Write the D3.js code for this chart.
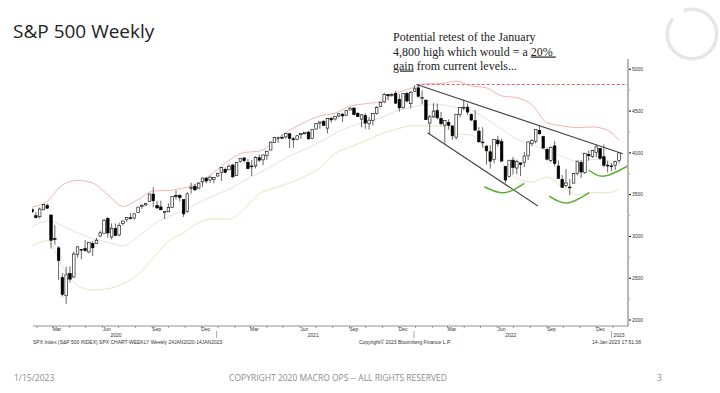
<!DOCTYPE html>
<html>
<head>
<meta charset="utf-8">
<script src="https://cdn.jsdelivr.net/npm/d3@7"></script>
<style>
  body { margin: 0; background: #fff; }
  svg { display: block; }
</style>
</head>
<body>
<svg id="slide" width="720" height="393"></svg>
<script>
const PLOT = { left: 33, right: 628, top: 59, bottom: 326 }
const CANDLE_W = 2.6

// weekly SPX candles, 24 Jan 2020 .. 13 Jan 2023 (one value per week)
const opens = [
  3321,3248,3235,3318,3369,3257,2974,2863,2508,2290,2558,2514,2782,2846,2854,2815,2915,2914,3004,3038,
  3213,2993,3094,3018,3155,3201,3224,3219,3288,3356,3377,3419,3507,3370,3353,3285,3295,3349,3489,3493,
  3441,3296,3583,3600,3579,3653,3698,3675,3684,3723,
  3764,3803,3797,3855,3731,3899,3939,3886,3843,3844,3942,3916,3969,4034,4124,4174,4185,4191,4229,4169,
  4159,4217,4229,4248,4174,4285,4356,4373,4296,4410,4406,4442,4462,4450,4513,4535,4474,4403,4450,4348,
  4385,4469,4553,4610,4697,4689,4712,4640,4539,4710,4588,4733,
  4778,4655,4632,4357,4431,4505,4412,4332,4363,4323,4188,4462,4541,4547,4462,4385,4260,4130,4082,4013,
  3920,4153,4134,3838,3715,3913,3819,3880,3884,3965,4112,4140,4269,4195,4041,3910,4084,3843,3682,3610,
  3591,3638,3755,3886,3765,3982,3956,4005,4053,3954,3853,3844,
  3853,3910
]
const highs = [
  3337,3293,3347,3385,3393,3259,3136,2883,2562,2637,2641,2819,2880,2846,2955,2932,2945,2980,3068,3211,
  3233,3156,3155,3165,3186,3233,3280,3272,3352,3387,3399,3509,3588,3425,3428,3306,3397,3482,3549,3502,
  3441,3529,3645,3628,3644,3700,3712,3726,3711,3760,
  3827,3824,3861,3870,3889,3937,3951,3929,3914,3960,3983,3978,4020,4130,4191,4194,4218,4238,4238,4190,
  4214,4234,4249,4262,4287,4355,4372,4393,4415,4430,4440,4468,4480,4513,4545,4549,4486,4466,4475,4429,
  4475,4559,4608,4718,4707,4717,4743,4705,4713,4731,4740,4808,
  4819,4749,4632,4454,4595,4590,4489,4385,4402,4324,4465,4546,4637,4593,4471,4513,4308,4307,4082,4090,
  4158,4204,4169,3838,3913,3951,3919,3880,4013,4140,4167,4280,4325,4204,4062,4076,4140,3908,3737,3807,
  3686,3762,3905,3912,4001,4028,4034,4101,4055,4101,3907,3878,
  3906,4003
]
const lows = [
  3280,3214,3214,3315,3328,2855,2901,2478,2281,2192,2447,2506,2749,2727,2816,2797,2766,2910,3000,3038,
  2984,2966,3004,3000,3129,3173,3202,3200,3284,3330,3363,3413,3349,3330,3313,3209,3293,3344,3441,3419,
  3233,3280,3512,3543,3569,3593,3633,3643,3636,3715,
  3663,3757,3797,3694,3726,3884,3884,3805,3723,3814,3894,3853,3917,4034,4121,4119,4165,4168,4057,4061,
  4152,4167,4219,4165,4173,4282,4289,4327,4233,4360,4386,4423,4367,4450,4513,4457,4433,4306,4288,4278,
  4329,4459,4547,4595,4630,4672,4585,4495,4531,4600,4531,4733,
  4663,4582,4395,4222,4414,4401,4327,4115,4279,4157,4161,4424,4507,4450,4381,4267,4124,4062,3859,3811,
  3876,4074,3900,3637,3705,3741,3743,3722,3830,3913,4079,4112,4218,4057,3907,3887,3838,3694,3585,3584,
  3492,3638,3732,3698,3747,3906,3940,3947,3918,3827,3765,3782,
  3795,3877
]
const closes = [
  3295,3226,3328,3380,3338,2954,2972,2711,2305,2541,2489,2790,2875,2837,2831,2930,2864,2955,3044,3194,
  3041,3098,3009,3130,3185,3225,3216,3271,3351,3373,3397,3508,3427,3341,3319,3298,3348,3477,3484,3465,
  3270,3510,3585,3558,3638,3699,3663,3709,3703,3756,
  3825,3768,3841,3714,3887,3934,3907,3811,3842,3943,3913,3975,4020,4129,4185,4180,4181,4233,4174,4156,
  4204,4230,4247,4166,4281,4352,4370,4327,4412,4395,4437,4468,4442,4509,4535,4459,4433,4455,4357,4391,
  4471,4545,4605,4697,4683,4698,4595,4538,4712,4621,4726,4766,
  4677,4663,4398,4432,4500,4419,4349,4385,4329,4204,4463,4543,4546,4488,4393,4272,4132,4123,4024,3901,
  4158,4109,3901,3675,3912,3825,3899,3863,3962,4130,4145,4280,4228,4057,3924,4067,3873,3693,3586,3640,
  3583,3753,3901,3771,3993,3965,4026,4072,3934,3852,3845,3840,
  3895,3999
]

// 20-week bands, read every four weeks
const bandDates = [
  "2020-01-24","2020-02-21","2020-03-20","2020-04-17","2020-05-15","2020-06-12","2020-07-10","2020-08-07",
  "2020-09-04","2020-10-02","2020-10-30","2020-11-27","2020-12-25","2021-01-22","2021-02-19","2021-03-19",
  "2021-04-16","2021-05-14","2021-06-11","2021-07-09","2021-08-06","2021-09-03","2021-10-01","2021-10-29",
  "2021-11-26","2021-12-24","2022-01-21","2022-02-18","2022-03-18","2022-04-15","2022-05-13","2022-06-10",
  "2022-07-08","2022-08-05","2022-09-02","2022-09-30","2022-10-28","2022-11-25","2022-12-23","2023-01-13"
]
const bandUpper = [3350,3420,3616,3670,3640,3500,3360,3440,3544,3550,3580,3641,3767,3910,4005,4020,4141,4270,4367,4442,
  4475,4559,4588,4614,4712,4770,4826,4830,4858,4802,4778,4682,4660,4575,4360,4323,4302,4310,4270,4152]
const bandMid = [3116,3184,3129,3040,2975,2930,2888,2994,3144,3237,3310,3403,3489,3563,3670,3760,3861,3961,4043,4130,
  4233,4315,4362,4420,4496,4547,4574,4574,4543,4508,4405,4284,4164,4100,4026,3959,3900,3922,3902,3861]
const bandLower = [2882,2948,2642,2414,2358,2374,2434,2546,2744,2939,3044,3165,3211,3205,3332,3509,3581,3639,3719,3818,
  3993,4071,4140,4227,4280,4324,4323,4321,4227,4214,4032,3880,3690,3650,3710,3595,3498,3524,3523,3570]

const yTicks = [2000, 2500, 3000, 3500, 4000, 4500, 5000]
const yearLabels = ["2020", "2021", "2022"]

// annotations (date, level)
const athLevel = 4818
const athDate = "2022-01-04"
const upperTrend = [["2022-01-04", 4818], ["2023-01-20", 3990]]
const lowerTrend = [["2022-01-24", 4240], ["2022-08-16", 3364]]
const supportArcs = [
  [["2022-05-09", 3595], ["2022-06-15", 3522], ["2022-07-22", 3636]],
  [["2022-09-06", 3483], ["2022-10-10", 3400], ["2022-11-19", 3523]],
  [["2022-11-18", 3795], ["2022-12-17", 3722], ["2023-01-29", 3843]]
]

const parse = d3.timeParse("%Y-%m-%d")
const weeks = d3.timeFriday.range(new Date(2020, 0, 24), new Date(2023, 0, 14))
const candles = weeks.map((d, i) => ({ date: d, o: opens[i], h: highs[i], l: lows[i], c: closes[i] }))

const svg = d3.select("#slide")
svg.append("rect").attr("width", 720).attr("height", 393).attr("fill", "#fff")

const x = d3.scaleTime()
  .domain([weeks[0], weeks[weeks.length - 1]])
  .range([32.1, 619])
const y = d3.scaleLinear()
  .domain([2000, 5000])
  .range([320, 69.3])

svg.append("clipPath").attr("id", "plotclip")
  .append("rect")
  .attr("x", 32).attr("y", PLOT.top)
  .attr("width", PLOT.right - 32).attr("height", PLOT.bottom - PLOT.top)

const plot = svg.append("g").attr("clip-path", "url(#plotclip)")

// bands
const bandLine = vals => d3.line()
  .x((d, i) => x(parse(d)))
  .y((d, i) => y(vals[i]))
  .curve(d3.curveMonotoneX)(bandDates)

plot.append("path").attr("d", bandLine(bandMid))
  .attr("fill", "none").attr("stroke", "#e2e2e2").attr("stroke-width", 1)
plot.append("path").attr("d", bandLine(bandUpper))
  .attr("fill", "none").attr("stroke", "#f3b3b3").attr("stroke-width", 1)
plot.append("path").attr("d", bandLine(bandLower))
  .attr("fill", "none").attr("stroke", "#dcebbd").attr("stroke-width", 1)

// ATH dashed line
plot.append("line")
  .attr("x1", x(parse(athDate))).attr("x2", PLOT.right)
  .attr("y1", y(athLevel)).attr("y2", y(athLevel))
  .attr("stroke", "#e8656a").attr("stroke-width", 1.2)
  .attr("stroke-dasharray", "3,2")

// candles
const cg = plot.append("g")
cg.selectAll("line.wick").data(candles).join("line")
  .attr("class", "wick")
  .attr("x1", d => x(d.date)).attr("x2", d => x(d.date))
  .attr("y1", d => y(d.h)).attr("y2", d => y(d.l))
  .attr("stroke", "#000").attr("stroke-width", 0.6)
cg.selectAll("rect.body").data(candles).join("rect")
  .attr("class", "body")
  .attr("x", d => x(d.date) - CANDLE_W / 2)
  .attr("width", CANDLE_W)
  .attr("y", d => y(Math.max(d.o, d.c)))
  .attr("height", d => Math.max(0.8, Math.abs(y(d.o) - y(d.c))))
  .attr("fill", d => d.c >= d.o ? "#fff" : "#000")
  .attr("stroke", "#000").attr("stroke-width", 0.6)

// trend lines
const dl = d3.line().x(d => x(parse(d[0]))).y(d => y(d[1]))
svg.append("path").attr("d", dl(upperTrend))
  .attr("fill", "none").attr("stroke", "#444").attr("stroke-width", 1.1)
svg.append("path").attr("d", dl(lowerTrend))
  .attr("fill", "none").attr("stroke", "#444").attr("stroke-width", 1.1)

const arcLine = d3.line().x(d => x(parse(d[0]))).y(d => y(d[1])).curve(d3.curveNatural)
svg.selectAll("path.arc").data(supportArcs).join("path")
  .attr("class", "arc")
  .attr("d", arcLine)
  .attr("fill", "none").attr("stroke", "#5fae3a").attr("stroke-width", 1.5)

// y axis (right)
svg.append("line")
  .attr("x1", PLOT.right).attr("x2", PLOT.right)
  .attr("y1", PLOT.top).attr("y2", PLOT.bottom)
  .attr("stroke", "#a6a6a6").attr("stroke-width", 1.6)
const minor = d3.range(2250, 5000, 500)
svg.selectAll("line.ymin").data(minor).join("line")
  .attr("class", "ymin")
  .attr("x1", PLOT.right + 1).attr("x2", PLOT.right + 2)
  .attr("y1", d => y(d)).attr("y2", d => y(d))
  .attr("stroke", "#666").attr("stroke-width", 0.6)
svg.selectAll("line.ymaj").data(yTicks).join("line")
  .attr("class", "ymaj")
  .attr("x1", PLOT.right + 1).attr("x2", PLOT.right + 3)
  .attr("y1", d => y(d)).attr("y2", d => y(d))
  .attr("stroke", "#000").attr("stroke-width", 1)
svg.selectAll("text.ylab").data(yTicks).join("text")
  .attr("class", "ylab")
  .attr("x", PLOT.right + 4).attr("y", d => y(d)).attr("dy", "0.35em")
  .attr("font-family", "Liberation Sans, Arial, sans-serif").attr("font-size", 5)
  .attr("fill", "#333")
  .text(d => d)

// x axis (bottom)
const xAxis = d3.axisBottom(x)
  .ticks(d3.timeMonth.every(1))
  .tickSize(2)
  .tickFormat("")
const xg = svg.append("g")
  .attr("transform", `translate(0,${PLOT.bottom})`)
  .call(xAxis)
xg.select(".domain").remove()
xg.selectAll(".tick line").attr("stroke", "#555").attr("stroke-width", 0.6)
svg.append("line")
  .attr("x1", PLOT.left).attr("x2", PLOT.right)
  .attr("y1", PLOT.bottom).attr("y2", PLOT.bottom)
  .attr("stroke", "#777").attr("stroke-width", 0.8)

const smallFont = "Liberation Sans, Arial, sans-serif"
const quarterMonths = d3.timeMonth.range(new Date(2020, 0, 1), new Date(2023, 0, 1))
  .filter(m => m.getMonth() % 3 === 2)
svg.selectAll("text.mon").data(quarterMonths).join("text")
  .attr("class", "mon")
  .attr("x", d => x(d3.timeDay.offset(d, 9)))
  .attr("y", 331)
  .attr("text-anchor", "middle")
  .attr("font-family", smallFont).attr("font-size", 5).attr("fill", "#333")
  .text(d3.timeFormat("%b"))

svg.selectAll("text.yr").data(yearLabels).join("text")
  .attr("class", "yr")
  .attr("x", d => x(new Date(+d, 5, 27)))
  .attr("y", 337)
  .attr("text-anchor", "middle")
  .attr("font-family", smallFont).attr("font-size", 5).attr("fill", "#333")
  .text(d => d)

const yearStarts = [2021, 2022, 2023].map(yr => d3.timeDay.offset(new Date(yr, 0, 1), -2))
svg.selectAll("line.ysep").data(yearStarts).join("line")
  .attr("class", "ysep")
  .attr("x1", d => x(d)).attr("x2", d => x(d))
  .attr("y1", 331).attr("y2", 338)
  .attr("stroke", "#555").attr("stroke-width", 0.5)
svg.append("text")
  .attr("x", x(yearStarts[2]) + 2).attr("y", 337)
  .attr("font-family", smallFont).attr("font-size", 5).attr("fill", "#333")
  .text("2023")

const foot = svg.append("g")
  .attr("font-family", smallFont).attr("font-size", 5).attr("fill", "#333")
foot.append("text").attr("x", 33).attr("y", 344)
  .text("SPX Index (S&P 500 INDEX) SPX CHART-WEEKLY  Weekly 24JAN2020-14JAN2023")
foot.append("text").attr("x", 359).attr("y", 344)
  .text("Copyright\u00A9 2023 Bloomberg Finance L.P.")
foot.append("text").attr("x", 592).attr("y", 344)
  .text("14-Jan-2023 17:51:38")

// slide title
svg.append("text")
  .attr("x", 13).attr("y", 38)
  .attr("font-family", "Open Sans, sans-serif").attr("font-size", 19)
  .attr("fill", "#222")
  .text("S&P 500 Weekly")

// annotation
const note = svg.append("text")
  .attr("font-family", "Liberation Serif, Times New Roman, serif")
  .attr("font-size", 12).attr("fill", "#222")
note.append("tspan").attr("x", 393).attr("y", 41).text("Potential retest of the January")
const l2 = note.append("tspan").attr("x", 393).attr("y", 55.5)
l2.append("tspan").text("4,800 high which would = a ")
l2.append("tspan").attr("text-decoration", "underline").text("20% ")
const l3 = note.append("tspan").attr("x", 393).attr("y", 69.5)
l3.append("tspan").attr("text-decoration", "underline").text("gain")
l3.append("tspan").text(" from current levels...")

// logo ring
const ring = d3.arc().innerRadius(23).outerRadius(26.5)
  .startAngle(-0.35).endAngle(2 * Math.PI - 0.9)
svg.append("path")
  .attr("transform", "translate(692,34)")
  .attr("d", ring())
  .attr("fill", "#e6e6e6")

// slide footer
const sf = svg.append("g")
  .attr("font-family", "Open Sans, sans-serif").attr("font-size", 8.5).attr("fill", "#8c8c8c")
sf.append("text").attr("x", 14).attr("y", 381).text("1/15/2023")
sf.append("text").attr("x", 338).attr("y", 381).attr("text-anchor", "middle")
  .text("COPYRIGHT 2020 MACRO OPS -- ALL RIGHTS RESERVED")
sf.append("text").attr("x", 657).attr("y", 381).text("3")
</script>
</body>
</html>
